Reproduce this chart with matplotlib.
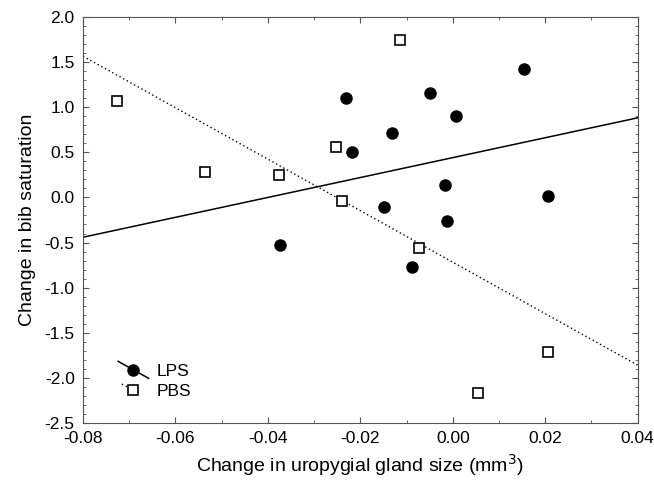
import numpy as np
from matplotlib import pyplot as plt
from matplotlib.legend_handler import HandlerLine2D
from matplotlib.lines import Line2D
from matplotlib.ticker import MultipleLocator

# values
lps_x = [-0.0230, -0.0219, -0.0132, -0.0050, 0.0007, 0.0154,
         -0.0017, 0.0205, -0.0148, -0.0012, -0.0373, -0.0088]
lps_y = [1.10, 0.50, 0.714, 1.161, 0.899, 1.42,
         0.142, 0.020, -0.110, -0.257, -0.523, -0.771]

pbs_x = [-0.0114, -0.0727, -0.0253, -0.0537, -0.0376, -0.0239,
         -0.0073, 0.0205, 0.0055]
pbs_y = [1.741, 1.069, 0.559, 0.278, 0.252, -0.039,
         -0.557, -1.717, -2.171]

x_ticks = [-0.08, -0.06, -0.04, -0.02, 0.00, 0.02, 0.04]
y_ticks = [2.0, 1.5, 1.0, 0.5, 0.0, -0.5, -1.0, -1.5, -2.0, -2.5]

plt.rcParams['font.family'] = ['Liberation Sans', 'DejaVu Sans']


class DiagonalHandler(HandlerLine2D):
  '''legend key with the fit line drawn slanting through the marker'''

  def create_artists(self, legend, orig_handle, xdescent, ydescent,
                     width, height, fontsize, trans):
    x0, x1 = -xdescent, -xdescent + 0.8 * width
    xm = (x0 + x1) / 2
    ym = height / 2 - ydescent
    if orig_handle.get_linestyle() == '-':
      line = Line2D([x0, x1], [ym + 0.7 * height, ym - 0.7 * height])
    else:
      # dotted key only shows a short stub left of the marker
      line = Line2D([x0 + 0.1 * width, xm], [ym + 0.5 * height, ym])
    self.update_prop(line, orig_handle, legend)
    line.set_marker('')
    line.set_transform(trans)
    mark = Line2D([xm], [ym])
    self.update_prop(mark, orig_handle, legend)
    mark.set_linestyle('')
    mark.set_transform(trans)
    return [line, mark]


fig = plt.figure(figsize=(6.54, 4.84), dpi=100)
ax = fig.add_axes([0.127, 0.126, 0.848, 0.839])

xs = np.array([-0.08, 0.04])

# regression lines from the data
a, b = np.polyfit(lps_x, lps_y, 1)
ax.plot(xs, a * xs + b, color='black', lw=1.1, zorder=2)
c, d = np.polyfit(pbs_x, pbs_y, 1)
ax.plot(xs, c * xs + d, color='black', lw=1.0, linestyle=(0, (1, 2)), zorder=2)

ax.plot(lps_x, lps_y, 'o', color='black', markersize=8, zorder=3)
ax.plot(pbs_x, pbs_y, 's', markerfacecolor='white', markeredgecolor='black',
        markeredgewidth=1.2, markersize=7, zorder=3)

h_lps = Line2D([], [], color='black', lw=1.1, marker='o', markersize=8)
h_pbs = Line2D([], [], color='black', lw=1.0, linestyle=(0, (1, 2)), marker='s',
               markerfacecolor='white', markeredgewidth=1.2, markersize=7)
ax.legend([h_lps, h_pbs], ['LPS', 'PBS'], loc='lower left',
          bbox_to_anchor=(0.035, 0.02), frameon=False, fontsize=12.5,
          handlelength=2.2, handletextpad=0.0, labelspacing=0.3,
          handler_map={Line2D: DiagonalHandler()})

ax.set_xlim(-0.08, 0.04)
ax.set_ylim(-2.5, 2.0)
ax.set_xticks(x_ticks)
ax.set_xticklabels([f'{v:.2f}' for v in x_ticks])
ax.set_yticks(y_ticks)
ax.set_yticklabels([f'{v:.1f}' for v in y_ticks])
ax.xaxis.set_minor_locator(MultipleLocator(0.01))
ax.yaxis.set_minor_locator(MultipleLocator(0.1))
ax.tick_params(which='both', direction='in', top=True, right=True,
               color='#555555', labelsize=12.5, pad=6)
ax.tick_params(which='major', length=4)
ax.tick_params(which='minor', length=2)
for s in ax.spines.values():
  s.set_color('#555555')

ax.set_xlabel('Change in uropygial gland size (mm$^3$)', fontsize=14, labelpad=4)
ax.set_ylabel('Change in bib saturation', fontsize=14, labelpad=6)

fig.savefig('out.png', dpi=100)
